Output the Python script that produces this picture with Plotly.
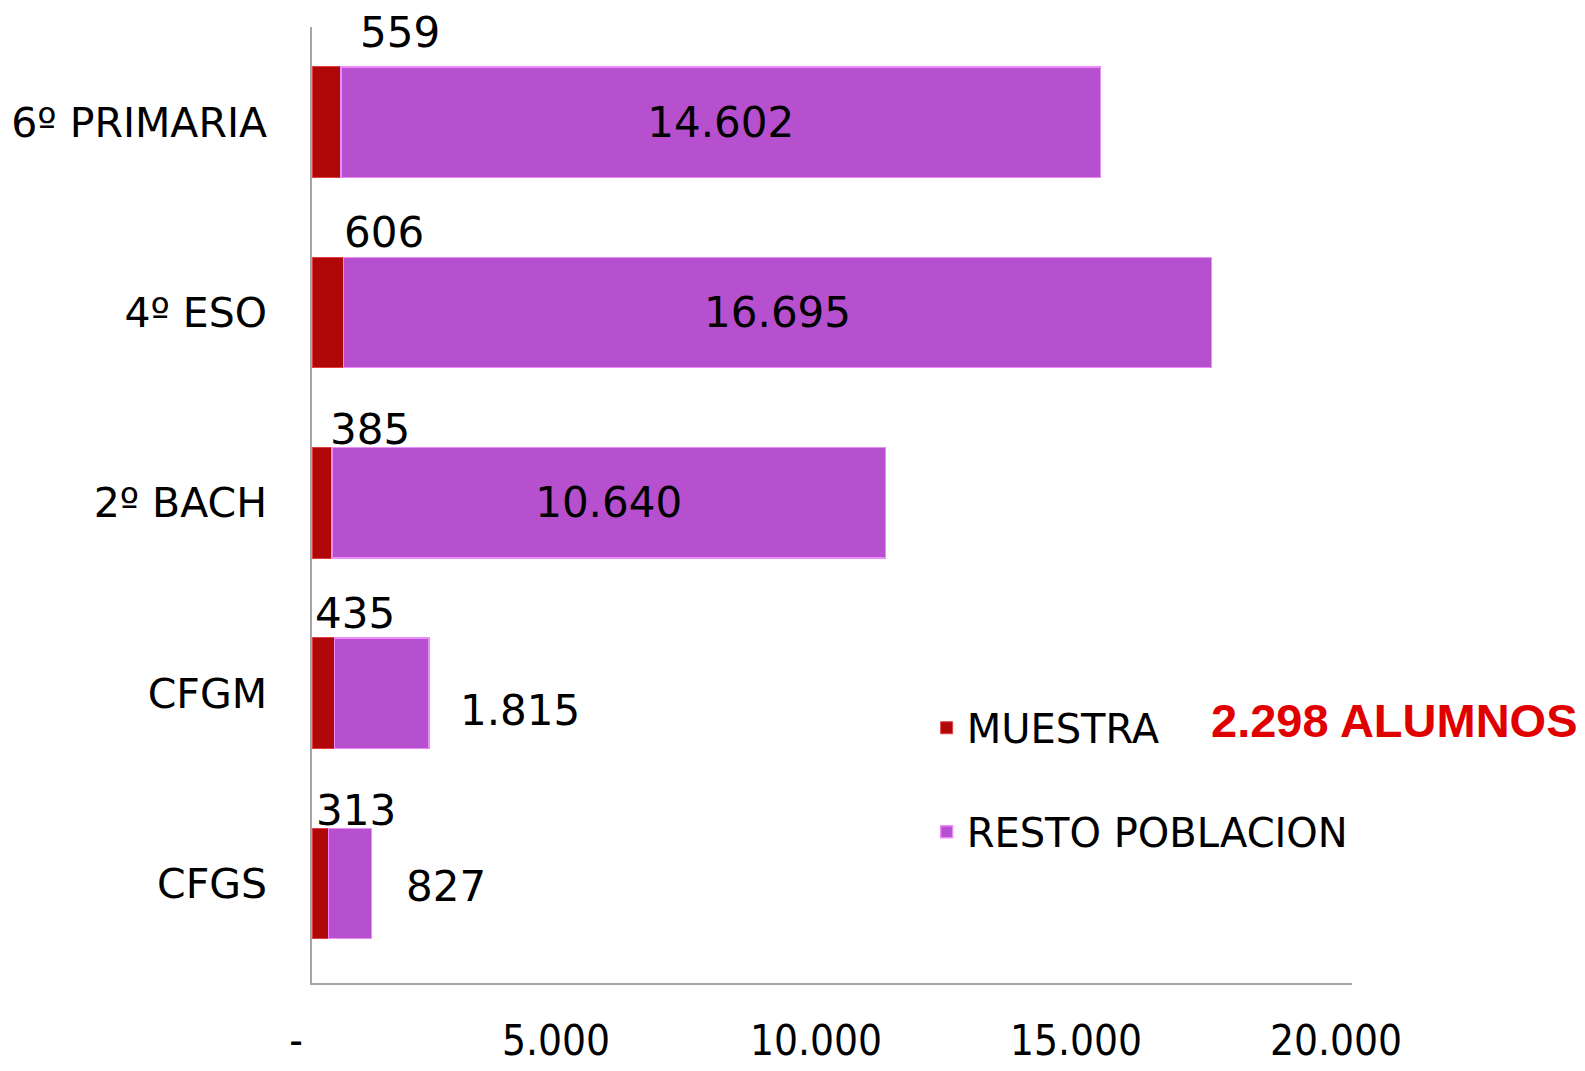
import plotly.graph_objects as go

categories = ["6º PRIMARIA", "4º ESO", "2º BACH", "CFGM", "CFGS"]
muestra = [559, 606, 385, 435, 313]
resto = [14602, 16695, 10640, 1815, 827]
tick_vals = [0, 5000, 10000, 15000, 20000]
tick_text = ["-", "5.000", "10.000", "15.000", "20.000"]
total_label = "2.298 ALUMNOS"

FONT = "DejaVu Sans, Liberation Sans, Arial, sans-serif"
RED = "#B00808"
PURPLE = "#B650CE"

# per-category placement of labels (pixels): style only
muestra_lbl_dx = [88, 72, 58, 43, 44]
muestra_lbl_dy = [90, 80, 73, 80, 73]
inside_mask = [True, True, True, False, False]
outside_dx = [0, 0, 0, 29, 33]
outside_dy = [0, 0, 0, -17, -3]


def fmt(v):
    return f"{v:,}".replace(",", ".")


fig = go.Figure()
fig.add_trace(go.Bar(
    y=categories, x=muestra, orientation="h", name="MUESTRA",
    marker=dict(color=RED, line=dict(color="#E04040", width=1)),
    legendgroup="m",
))
fig.add_trace(go.Bar(
    y=categories, x=resto, orientation="h", name="RESTO POBLACION",
    marker=dict(color=PURPLE, line=dict(color="#EC8CFA", width=1.5)),
    text=[fmt(v) if ins else "" for v, ins in zip(resto, inside_mask)],
    textposition="inside", insidetextanchor="middle",
    textfont=dict(family=FONT, size=42, color="black"),
    legendgroup="r",
))

annotations = []
for i, cat in enumerate(categories):
    annotations.append(dict(
        x=0, y=cat, xref="x", yref="y", text=fmt(muestra[i]),
        showarrow=False, xanchor="center", yanchor="middle",
        xshift=muestra_lbl_dx[i], yshift=muestra_lbl_dy[i],
        font=dict(family=FONT, size=42, color="black"),
    ))
    if not inside_mask[i]:
        annotations.append(dict(
            x=muestra[i] + resto[i], y=cat, xref="x", yref="y",
            text=fmt(resto[i]),
            showarrow=False, xanchor="left", yanchor="middle",
            xshift=outside_dx[i], yshift=outside_dy[i],
            font=dict(family=FONT, size=42, color="black"),
        ))

annotations.append(dict(
    x=1.041, y=0.275, xref="paper", yref="paper", text=f"<b>{total_label}</b>",
    showarrow=False, xanchor="center", yanchor="middle",
    font=dict(family="Liberation Sans, Arial, sans-serif", size=47, color="#E00000"),
))

fig.update_layout(
    width=1585, height=1071,
    margin=dict(l=304, r=241, t=19, b=96),
    barmode="stack", bargap=0.42,
    separators=",.",
    plot_bgcolor="white", paper_bgcolor="white",
    annotations=annotations,
    legend=dict(
        x=0.591, y=0.301, xanchor="left", yanchor="top",
        font=dict(family=FONT, size=40, color="black"),
        traceorder="grouped", tracegroupgap=49,
        bgcolor="rgba(0,0,0,0)",
    ),
    xaxis=dict(
        range=[0, 20000], tickvals=tick_vals, ticktext=tick_text,
        showgrid=False, zeroline=False, showline=True, linecolor="#A6A6A6", linewidth=1.5,
        ticks="", automargin=False,
        tickfont=dict(family="DejaVu Sans Condensed, Liberation Sans Narrow, DejaVu Sans, sans-serif", size=42, color="black"),
        ticklabelstandoff=20, ticklabelshift=-16,
    ),
    yaxis=dict(
        categoryorder="array", categoryarray=categories, autorange="reversed",
        showgrid=False, zeroline=False, showline=True, linecolor="#A6A6A6", linewidth=1.5,
        ticks="", automargin=False,
        tickfont=dict(family=FONT, size=41, color="black"),
        ticklabelstandoff=35,
    ),
)

fig.write_html("out.html")
